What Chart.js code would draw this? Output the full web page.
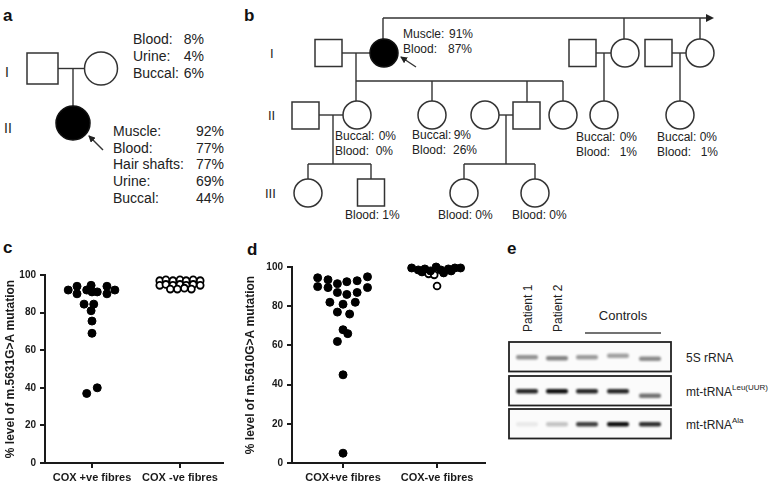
<!DOCTYPE html>
<html>
<head>
<meta charset="utf-8">
<script src="https://cdn.jsdelivr.net/npm/chart.js@4.4.1/dist/chart.umd.min.js"></script>
<style>
  body { margin: 0; background: #fff; }
  #fig { position: relative; width: 776px; height: 485px; overflow: hidden; font-family: Arial, "Liberation Sans", sans-serif; }
  #fig svg { position: absolute; left: 0; top: 0; }
  #fig canvas { position: absolute; }
  .lab { font-size: 17px; font-weight: bold; fill: #111; }
  .t14 { font-size: 14px; fill: #222; }
  .t12 { font-size: 12px; fill: #222; }
  .t13 { font-size: 13px; fill: #222; }
  .sym { stroke: #333; stroke-width: 1.5; fill: #fff; }
  .aff { stroke: #111; stroke-width: 1.5; fill: #000; }
  .ln { stroke: #333; stroke-width: 1.4; fill: none; }
</style>
</head>
<body>
<div id="fig">
<svg id="draw" width="776" height="485">
  <defs>
    <marker id="ah" markerWidth="7" markerHeight="7" refX="6" refY="3.5" orient="auto" markerUnits="userSpaceOnUse">
      <path d="M0,0 L7,3.5 L0,7 z" fill="#222"/>
    </marker>
    <filter id="blur" x="-30%" y="-100%" width="160%" height="300%">
      <feGaussianBlur stdDeviation="1.1"/>
    </filter>
  </defs>

  <!-- panel a -->
  <text class="lab" x="3" y="21">a</text>
  <text class="t14" x="5" y="77">I</text>
  <text class="t14" x="4" y="133">II</text>
  <rect class="sym" x="27" y="53" width="31" height="31"/>
  <line class="ln" x1="58" y1="68.5" x2="84.5" y2="68.5"/>
  <circle class="sym" cx="101" cy="68.5" r="16.5"/>
  <line class="ln" x1="73" y1="68.5" x2="73" y2="106"/>
  <circle class="aff" cx="73" cy="123" r="17"/>
  <line class="ln" x1="103" y1="150" x2="89" y2="136" marker-end="url(#ah)"/>
  <g class="t14">
    <text x="133" y="44">Blood:</text><text x="204" y="44" text-anchor="end">8%</text>
    <text x="133" y="61">Urine:</text><text x="204" y="61" text-anchor="end">4%</text>
    <text x="133" y="78">Buccal:</text><text x="204" y="78" text-anchor="end">6%</text>
    <text x="113" y="136">Muscle:</text><text x="224" y="136" text-anchor="end">92%</text>
    <text x="113" y="153">Blood:</text><text x="224" y="153" text-anchor="end">77%</text>
    <text x="113" y="169">Hair shafts:</text><text x="224" y="169" text-anchor="end">77%</text>
    <text x="113" y="186">Urine:</text><text x="224" y="186" text-anchor="end">69%</text>
    <text x="113" y="203">Buccal:</text><text x="224" y="203" text-anchor="end">44%</text>
  </g>

  <!-- panel b -->
  <text class="lab" x="244" y="21">b</text>
  <text class="t13" x="270" y="58">I</text>
  <text class="t13" x="268" y="120">II</text>
  <text class="t13" x="265" y="198">III</text>

  <line class="ln" x1="383" y1="18" x2="708" y2="18"/>
  <path d="M706,14 L714,18 L706,22 z" fill="#222"/>
  <line class="ln" x1="383" y1="18" x2="383" y2="39"/>
  <line class="ln" x1="624" y1="18" x2="624" y2="39"/>
  <line class="ln" x1="700" y1="18" x2="700" y2="39"/>

  <rect class="sym" x="315" y="39.5" width="27" height="27"/>
  <line class="ln" x1="342" y1="53" x2="370" y2="53"/>
  <circle class="aff" cx="384" cy="53" r="14"/>
  <line class="ln" x1="416" y1="67" x2="401" y2="57" marker-end="url(#ah)"/>
  <line class="ln" x1="356" y1="53" x2="356" y2="81"/>

  <rect class="sym" x="569" y="39.5" width="27" height="27"/>
  <line class="ln" x1="596" y1="53" x2="611" y2="53"/>
  <circle class="sym" cx="625" cy="53" r="14"/>
  <line class="ln" x1="604" y1="53" x2="604" y2="101"/>
  <circle class="sym" cx="604" cy="115" r="14"/>

  <rect class="sym" x="645" y="39.5" width="27" height="27"/>
  <line class="ln" x1="672" y1="53" x2="686" y2="53"/>
  <circle class="sym" cx="700" cy="53" r="14"/>
  <line class="ln" x1="680" y1="53" x2="680" y2="101"/>
  <circle class="sym" cx="680" cy="115" r="14"/>

  <line class="ln" x1="356" y1="81" x2="563" y2="81"/>
  <line class="ln" x1="356" y1="81" x2="356" y2="101"/>
  <line class="ln" x1="432" y1="81" x2="432" y2="101"/>
  <line class="ln" x1="527" y1="81" x2="527" y2="102"/>
  <line class="ln" x1="563" y1="81" x2="563" y2="101"/>

  <rect class="sym" x="292" y="102" width="27" height="27"/>
  <line class="ln" x1="319" y1="115" x2="343" y2="115"/>
  <circle class="sym" cx="357" cy="115" r="14"/>
  <line class="ln" x1="333" y1="115" x2="333" y2="164"/>
  <circle class="sym" cx="432" cy="115" r="14"/>
  <circle class="sym" cx="485" cy="115" r="14"/>
  <line class="ln" x1="499" y1="115" x2="513" y2="115"/>
  <rect class="sym" x="513" y="102" width="27" height="27"/>
  <line class="ln" x1="506" y1="115" x2="506" y2="164"/>
  <circle class="sym" cx="563" cy="115" r="14"/>

  <line class="ln" x1="308" y1="164" x2="371" y2="164"/>
  <line class="ln" x1="308" y1="164" x2="308" y2="179"/>
  <line class="ln" x1="371" y1="164" x2="371" y2="179"/>
  <circle class="sym" cx="308" cy="193" r="14"/>
  <rect class="sym" x="357.5" y="179" width="27" height="27"/>

  <line class="ln" x1="464" y1="164" x2="535" y2="164"/>
  <line class="ln" x1="464" y1="164" x2="464" y2="179"/>
  <line class="ln" x1="535" y1="164" x2="535" y2="179"/>
  <circle class="sym" cx="464" cy="193" r="14"/>
  <circle class="sym" cx="535" cy="193" r="14"/>

  <g class="t12">
    <text x="403" y="38">Muscle:</text><text x="473" y="38" text-anchor="end">91%</text>
    <text x="403" y="53">Blood:</text><text x="472" y="53" text-anchor="end">87%</text>
    <text x="335" y="140">Buccal:</text><text x="396" y="140" text-anchor="end">0%</text>
    <text x="335" y="155">Blood:</text><text x="393" y="155" text-anchor="end">0%</text>
    <text x="412" y="139">Buccal:</text><text x="471" y="139" text-anchor="end">9%</text>
    <text x="412" y="154">Blood:</text><text x="477" y="154" text-anchor="end">26%</text>
    <text x="576" y="141">Buccal:</text><text x="637" y="141" text-anchor="end">0%</text>
    <text x="576" y="156">Blood:</text><text x="637" y="156" text-anchor="end">1%</text>
    <text x="657" y="141">Buccal:</text><text x="717" y="141" text-anchor="end">0%</text>
    <text x="657" y="156">Blood:</text><text x="718" y="156" text-anchor="end">1%</text>
    <text x="345" y="219">Blood: 1%</text>
    <text x="438" y="219">Blood: 0%</text>
    <text x="512" y="219">Blood: 0%</text>
  </g>

  <!-- panel labels c, d, e -->
  <text class="lab" x="3" y="253">c</text>
  <text class="lab" x="247" y="255">d</text>
  <text class="lab" x="507" y="254">e</text>

  <!-- panel e, gel -->
  <g id="gel"></g>
</svg>
<canvas id="chartC" width="240" height="240" style="left:0px;top:245px"></canvas>
<canvas id="chartD" width="262" height="240" style="left:240px;top:245px"></canvas>
</div>

<script>
// panel c: m.5631G>A
const catsC = ['COX +ve fibres', 'COX -ve fibres'];
const cPosX = [0.73, 0.83, 0.83, 0.94, 0.99, 1.00, 1.06, 1.17, 1.17, 1.26, 0.91, 1.02, 0.99, 1.00, 1.00, 0.94, 1.06];
const cPosY = [92, 94, 90, 92, 94.5, 91, 91, 94, 90, 92, 84.5, 84.5, 81, 75.5, 69, 37, 40];
const cNegX = [1.77, 1.84, 1.92, 2.00, 2.07, 2.15, 2.23, 1.77, 1.84, 1.92, 2.00, 2.07, 2.15, 2.23, 1.89, 1.97, 2.05, 2.13];
const cNegY = [97, 97.5, 97, 97.5, 97, 97.5, 97, 94.5, 95, 94.5, 95, 94.5, 95, 94.5, 92.5, 92.5, 93, 92.5];

// panel d: m.5610G>A
const catsD = ['COX+ve fibres', 'COX-ve fibres'];
const dPosX = [0.73, 0.84, 0.94, 1.04, 1.15, 1.26, 0.73, 0.84, 0.94, 1.04, 1.15, 1.26, 0.86, 1.00, 1.13, 0.94, 1.07, 1.00, 1.05, 0.94, 1.00, 1.00];
const dPosY = [94.5, 93.5, 91.5, 92.5, 93, 95, 90, 89.5, 87, 86, 87, 89.5, 82, 81, 82, 77, 76, 68, 66, 62, 45, 5];
const dNegFillX = [1.73, 1.80, 1.87, 1.93, 1.99, 2.04, 2.12, 2.19, 2.25, 1.84, 2.07, 2.15];
const dNegFillY = [99.5, 98.5, 99, 98, 100, 98.5, 99, 99.5, 99.5, 97.5, 97, 98];
const dNegOpenX = [1.91, 1.97, 2.00];
const dNegOpenY = [96.5, 96, 90.3];

const yTicks = [0, 20, 40, 60, 80, 100];

// panel e: northern blot
const laneNames = ['Patient 1', 'Patient 2', 'Controls'];
const rnaNames = ['5S rRNA', 'mt-tRNA', 'mt-tRNA'];
const rnaSup = ['', 'Leu(UUR)', 'Ala'];
const bandLevels = [
    [0.42, 0.48, 0.38, 0.36, 0.45],
    [0.85, 0.95, 0.85, 0.85, 0.55],
    [0.07, 0.22, 0.75, 0.95, 0.82]
];

const toPoints = (xs, ys) => xs.map((x, i) => ({ x: x, y: ys[i] }));
const ink = '#1a1a1a';
const font = 'Arial, "Liberation Sans", sans-serif';

const makeScatter = (id, cats, yTitle, xRange, axisW, pad, sets) => {
    return new Chart(document.getElementById(id), {
        type: 'scatter',
        data: { datasets: sets },
        options: {
            responsive: false,
            animation: false,
            layout: { padding: pad },
            plugins: { legend: { display: false }, tooltip: { enabled: false } },
            scales: {
                x: {
                    type: 'linear',
                    min: xRange[0],
                    max: xRange[1],
                    afterBuildTicks: (s) => { s.ticks = [{ value: 1 }, { value: 2 }]; },
                    afterFit: (s) => { s.height = 22; },
                    ticks: {
                        autoSkip: false,
                        maxRotation: 0,
                        padding: 3,
                        color: ink,
                        font: { family: font, size: 11, weight: 'bold' },
                        callback: (v) => cats[v - 1]
                    },
                    grid: { drawOnChartArea: false, tickLength: 5, color: ink, lineWidth: 2 },
                    border: { color: ink, width: 2 }
                },
                y: {
                    min: 0,
                    max: 100,
                    afterBuildTicks: (s) => { s.ticks = yTicks.map(v => ({ value: v })); },
                    afterFit: (s) => { s.width = axisW; },
                    ticks: {
                        padding: 4,
                        color: ink,
                        font: { family: font, size: 10, weight: 'bold' }
                    },
                    grid: { drawOnChartArea: false, tickLength: 5, color: ink, lineWidth: 2 },
                    border: { color: ink, width: 2 },
                    title: {
                        display: true,
                        text: yTitle,
                        color: ink,
                        padding: { top: 3, bottom: 0 },
                        font: { family: font, size: 12, weight: 'bold' }
                    }
                }
            }
        }
    });
};

const filled = (pts) => ({
    data: pts, clip: false,
    pointRadius: 4, pointBackgroundColor: '#000', pointBorderColor: '#000', pointBorderWidth: 1
});
const hollow = (pts) => ({
    data: pts, clip: false,
    pointRadius: 3.4, pointBackgroundColor: '#fff', pointBorderColor: '#000', pointBorderWidth: 1.8
});

makeScatter('chartC', catsC, '% level of m.5631G>A mutation', [0.466, 2.489], 45,
    { top: 30, right: 17, left: 0, bottom: 0 },
    [filled(toPoints(cPosX, cPosY)), hollow(toPoints(cNegX, cNegY))]);

makeScatter('chartD', catsD, '% level of m.5610G>A mutation', [0.457, 2.51], 52,
    { top: 22, right: 17, left: 0, bottom: 0 },
    [filled(toPoints(dPosX, dPosY)), filled(toPoints(dNegFillX, dNegFillY)), hollow(toPoints(dNegOpenX, dNegOpenY))]);

// gel drawing
const NS = 'http://www.w3.org/2000/svg';
const gel = document.getElementById('gel');
const add = (tag, attrs, text) => {
    const el = document.createElementNS(NS, tag);
    Object.entries(attrs).forEach(([k, v]) => el.setAttribute(k, v));
    if (text) el.textContent = text;
    gel.appendChild(el);
    return el;
};
const laneX = [527, 557, 587, 618, 650];
const boxTop = [342, 376, 409];
const bandShift = [[0, 1, 0, -1.5, 1.5], [0, 0, 0, 0, 4.5], [0, 0, 0, 0, 0]];

add('text', { transform: 'translate(532,332) rotate(-90)', class: 't12' }, laneNames[0]);
add('text', { transform: 'translate(562,332) rotate(-90)', class: 't12' }, laneNames[1]);
add('text', { x: 623, y: 320, class: 't13', 'text-anchor': 'middle' }, laneNames[2]);
add('line', { x1: 585, y1: 333, x2: 661, y2: 333, stroke: '#444', 'stroke-width': 1.3 });

boxTop.forEach((top, r) => {
    add('rect', { x: 509, y: top, width: 162, height: 29.5, fill: '#fbfbfb', stroke: '#222', 'stroke-width': 1.8 });
    bandLevels[r].forEach((lvl, i) => {
        add('rect', {
            x: laneX[i] - 11, y: top + 13 + bandShift[r][i], width: 22, height: 4.5, rx: 2,
            fill: '#000', 'fill-opacity': lvl, filter: 'url(#blur)'
        });
    });
    const t = add('text', { x: 686, y: top + 20, class: 't12' }, rnaNames[r]);
    if (rnaSup[r]) {
        const sup = document.createElementNS(NS, 'tspan');
        sup.setAttribute('dy', '-6');
        sup.setAttribute('font-size', '8');
        sup.textContent = rnaSup[r];
        t.appendChild(sup);
    }
});
</script>
</body>
</html>
